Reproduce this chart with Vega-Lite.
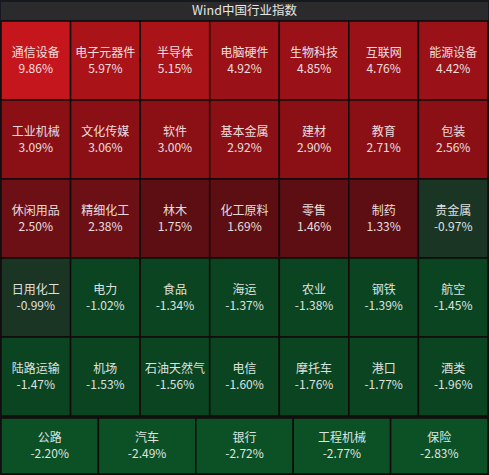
{
  "$schema": "https://vega.github.io/schema/vega-lite/v6.json",
  "background": "#15181f",
  "padding": {"top": 2, "left": 0, "right": 2, "bottom": 4},
  "config": {
    "view": {"stroke": null},
    "concat": {"spacing": 0},
    "text": {"font": "Noto Sans CJK SC"}
  },
  "datasets": {
    "industry": [
      {"name": "通信设备", "value": 9.86},
      {"name": "电子元器件", "value": 5.97},
      {"name": "半导体", "value": 5.15},
      {"name": "电脑硬件", "value": 4.92},
      {"name": "生物科技", "value": 4.85},
      {"name": "互联网", "value": 4.76},
      {"name": "能源设备", "value": 4.42},
      {"name": "工业机械", "value": 3.09},
      {"name": "文化传媒", "value": 3.06},
      {"name": "软件", "value": 3.00},
      {"name": "基本金属", "value": 2.92},
      {"name": "建材", "value": 2.90},
      {"name": "教育", "value": 2.71},
      {"name": "包装", "value": 2.56},
      {"name": "休闲用品", "value": 2.50},
      {"name": "精细化工", "value": 2.38},
      {"name": "林木", "value": 1.75},
      {"name": "化工原料", "value": 1.69},
      {"name": "零售", "value": 1.46},
      {"name": "制药", "value": 1.33},
      {"name": "贵金属", "value": -0.97},
      {"name": "日用化工", "value": -0.99},
      {"name": "电力", "value": -1.02},
      {"name": "食品", "value": -1.34},
      {"name": "海运", "value": -1.37},
      {"name": "农业", "value": -1.38},
      {"name": "钢铁", "value": -1.39},
      {"name": "航空", "value": -1.45},
      {"name": "陆路运输", "value": -1.47},
      {"name": "机场", "value": -1.53},
      {"name": "石油天然气", "value": -1.56},
      {"name": "电信", "value": -1.60},
      {"name": "摩托车", "value": -1.76},
      {"name": "港口", "value": -1.77},
      {"name": "酒类", "value": -1.96},
      {"name": "公路", "value": -2.20},
      {"name": "汽车", "value": -2.49},
      {"name": "银行", "value": -2.72},
      {"name": "工程机械", "value": -2.77},
      {"name": "保险", "value": -2.83}
    ]
  },
  "vconcat": [
    {
      "width": 487,
      "height": 18,
      "view": {"fill": "#2b2b2e", "stroke": null},
      "data": {"values": [{"title": "Wind中国行业指数"}]},
      "mark": {"type": "text", "fontSize": 12.5, "color": "#e6e6e6", "baseline": "middle", "align": "center"},
      "encoding": {"text": {"field": "title"}}
    },
    {
      "width": 487,
      "height": 395,
      "data": {"name": "industry"},
      "transform": [
        {"window": [{"op": "row_number", "as": "idx"}], "sort": [{"field": "value", "order": "descending"}]},
        {"filter": "datum.idx <= 35"},
        {"calculate": "floor((datum.idx - 1) / 7)", "as": "r"},
        {"calculate": "(datum.idx - 1) % 7", "as": "c"},
        {"calculate": "(datum.value < 0 ? '-' : '') + format(abs(datum.value), '.2f') + '%'", "as": "label"}
      ],
      "encoding": {
        "x": {"field": "c", "type": "ordinal", "axis": null, "scale": {"paddingInner": 0, "paddingOuter": 0}},
        "y": {"field": "r", "type": "ordinal", "axis": null, "scale": {"paddingInner": 0, "paddingOuter": 0}}
      },
      "layer": [
        {
          "mark": {"type": "rect", "stroke": "#120a0a", "strokeWidth": 1.5},
          "encoding": {
            "color": {
              "field": "value",
              "type": "quantitative",
              "legend": null,
              "scale": {
                "type": "threshold",
                "domain": [-2, -1, 0, 2, 2.55, 4, 5, 9],
                "range": ["#0c5026", "#0a4421", "#1b3525", "#5c0e13", "#6d1016", "#8a1015", "#9a1118", "#aa1318", "#c5161d"]
              }
            }
          }
        },
        {
          "mark": {"type": "text", "fontSize": 12, "color": "#ffffff", "opacity": 0.85, "dy": -8},
          "encoding": {"text": {"field": "name"}}
        },
        {
          "mark": {"type": "text", "fontSize": 12, "color": "#ffffff", "opacity": 0.85, "dy": 8},
          "encoding": {"text": {"field": "label"}}
        }
      ]
    },
    {
      "width": 487,
      "height": 56,
      "data": {"name": "industry"},
      "transform": [
        {"window": [{"op": "row_number", "as": "idx"}], "sort": [{"field": "value", "order": "descending"}]},
        {"filter": "datum.idx > 35"},
        {"calculate": "datum.idx - 36", "as": "c"},
        {"calculate": "(datum.value < 0 ? '-' : '') + format(abs(datum.value), '.2f') + '%'", "as": "label"}
      ],
      "encoding": {
        "x": {"field": "c", "type": "ordinal", "axis": null, "scale": {"paddingInner": 0, "paddingOuter": 0}}
      },
      "layer": [
        {
          "mark": {"type": "rect", "stroke": "#120a0a", "strokeWidth": 1.5},
          "encoding": {
            "color": {
              "field": "value",
              "type": "quantitative",
              "legend": null,
              "scale": {
                "type": "threshold",
                "domain": [-2, -1, 0, 2, 2.55, 4, 5, 9],
                "range": ["#0c5026", "#0a4421", "#1b3525", "#5c0e13", "#6d1016", "#8a1015", "#9a1118", "#aa1318", "#c5161d"]
              }
            }
          }
        },
        {
          "mark": {"type": "text", "fontSize": 12, "color": "#ffffff", "opacity": 0.85, "dy": -8},
          "encoding": {"text": {"field": "name"}}
        },
        {
          "mark": {"type": "text", "fontSize": 12, "color": "#ffffff", "opacity": 0.85, "dy": 8},
          "encoding": {"text": {"field": "label"}}
        }
      ]
    }
  ]
}
